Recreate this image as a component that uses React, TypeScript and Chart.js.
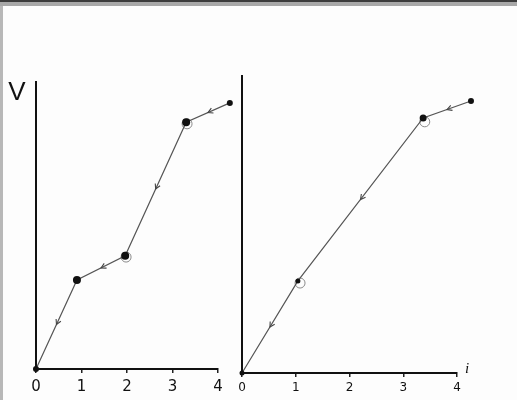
import React, { useEffect, useRef } from "react";
import { Chart, registerables } from "chart.js";

Chart.register(...registerables);

// ---- data ----
const tickLabels = ["0", "1", "2", "3", "4"];

const leftI = [0, 0.9, 1.96, 3.3, 4.26];
const leftV = [0, 2.17, 2.76, 6.02, 6.49];
const leftRingI = [1.98, 3.32];
const leftRingV = [2.73, 5.98];

const rightI = [0, 1.04, 3.37, 4.26];
const rightV = [0, 2.17, 6.01, 6.41];
const rightRingI = [1.08, 3.4];
const rightRingV = [2.12, 5.92];

const yAxisLabel = "V";
const xAxisLabel = "i";

const W = 517;
const H = 400;

const sketchPlugin = {
  id: "sketch",
  afterDatasetsDraw(chart: any, _args: any, opts: any) {
    const meta = chart.getDatasetMeta(0);
    const pts = meta.data;
    const ds = chart.data.datasets[0];
    const ca = chart.chartArea;
    const ctx = chart.ctx;
    ctx.save();
    // dots that fall just past the axis end (Chart.js skips them)
    ctx.fillStyle = "#111";
    pts.forEach((p: any, i: number) => {
      if (p.x > ca.right + 1 || p.y < ca.top - 1) {
        const r = Array.isArray(ds.pointRadius) ? ds.pointRadius[i] : ds.pointRadius;
        ctx.beginPath();
        ctx.arc(p.x, p.y, r, 0, Math.PI * 2);
        ctx.fill();
      }
    });
    ctx.strokeStyle = "#444";
    ctx.lineWidth = 1.1;
    (opts.arrowSegs || []).forEach((k: number) => {
      const a = pts[k + 1];
      const b = pts[k];
      const mx = (a.x + b.x) / 2;
      const my = (a.y + b.y) / 2;
      const ang = Math.atan2(b.y - a.y, b.x - a.x);
      const L = 5.5;
      const s = 0.5;
      ctx.beginPath();
      ctx.moveTo(mx - L * Math.cos(ang - s), my - L * Math.sin(ang - s));
      ctx.lineTo(mx, my);
      ctx.lineTo(mx - L * Math.cos(ang + s), my - L * Math.sin(ang + s));
      ctx.stroke();
    });
    ctx.restore();
  },
  afterDraw(chart: any, _args: any, opts: any) {
    const ctx = chart.ctx;
    const ca = chart.chartArea;
    ctx.save();
    ctx.fillStyle = "#111";
    if (opts.yLabel) {
      ctx.font = "26px 'Liberation Sans', 'DejaVu Sans', sans-serif";
      ctx.textAlign = "center";
      ctx.textBaseline = "top";
      ctx.fillText(opts.yLabel, ca.left - 19, ca.top - 2);
    }
    if (opts.xLabel) {
      ctx.font = "italic 15px 'Liberation Serif', serif";
      ctx.textAlign = "left";
      ctx.textBaseline = "bottom";
      ctx.fillText(opts.xLabel, ca.right + 8, ca.bottom + 4);
    }
    ctx.restore();
  },
};

function makeConfig(
  xs: number[],
  ys: number[],
  ringX: number[],
  ringY: number[],
  pad: { left: number; right: number; top: number },
  xAxisH: number,
  fontSize: number,
  tickPad: number,
  arrowSegs: number[],
  yLabel: string,
  xLabel: string,
  dotRadius: number[]
) {
  return {
    type: "scatter" as const,
    data: {
      datasets: [
        {
          data: xs.map((x, i) => ({ x, y: ys[i] })),
          showLine: true,
          borderColor: "#555",
          borderWidth: 1.2,
          pointBackgroundColor: "#111",
          pointBorderColor: "#111",
          pointRadius: dotRadius,
          pointBorderWidth: 0,
          clip: false as any,
        },
        {
          data: ringX.map((x, i) => ({ x, y: ringY[i] })),
          showLine: false,
          pointStyle: "circle",
          pointRadius: 5,
          pointBorderWidth: 1,
          borderColor: "#8a8a8a",
          pointBorderColor: "#8a8a8a",
          pointBackgroundColor: "rgba(0,0,0,0)",
          clip: false as any,
        },
      ],
    },
    options: {
      animation: false as const,
      responsive: false,
      events: [],
      layout: { padding: { left: pad.left, right: pad.right, top: pad.top, bottom: 0 } },
      plugins: {
        legend: { display: false },
        tooltip: { enabled: false },
        sketch: { arrowSegs, yLabel, xLabel },
      } as any,
      scales: {
        x: {
          type: "linear" as const,
          min: 0,
          max: 4,
          afterFit: (s: any) => {
            s.height = xAxisH;
          },
          grid: {
            display: true,
            drawOnChartArea: false,
            drawTicks: true,
            tickLength: 4,
            color: "#222",
            lineWidth: 1.5,
          },
          border: { display: true, color: "#111", width: 2 },
          ticks: {
            stepSize: 1,
            padding: tickPad,
            color: "#111",
            font: { size: fontSize, family: "'DejaVu Sans', sans-serif" },
            callback: (v: any) => tickLabels[Math.round(Number(v))] ?? "",
          },
        },
        y: {
          type: "linear" as const,
          min: 0,
          max: 7,
          afterFit: (s: any) => {
            s.width = 0;
          },
          grid: { display: false },
          border: { display: true, color: "#111", width: 2 },
          ticks: { display: false },
        },
      },
    },
    plugins: [sketchPlugin],
  };
}

export default function App() {
  const leftRef = useRef<HTMLCanvasElement>(null);
  const rightRef = useRef<HTMLCanvasElement>(null);

  useEffect(() => {
    const left = new Chart(
      leftRef.current!,
      makeConfig(
        leftI,
        leftV,
        leftRingI,
        leftRingV,
        { left: 36, right: W - 218, top: 82 },
        H - 369,
        15,
        5,
        [0, 1, 2, 3],
        yAxisLabel,
        "",
        [3, 4, 4, 4, 3]
      ) as any
    );
    const right = new Chart(
      rightRef.current!,
      makeConfig(
        rightI,
        rightV,
        rightRingI,
        rightRingV,
        { left: 242, right: W - 457, top: 76 },
        H - 373,
        12,
        4,
        [0, 1, 2],
        "",
        xAxisLabel,
        [2.5, 2.5, 3.5, 3]
      ) as any
    );
    return () => {
      left.destroy();
      right.destroy();
    };
  }, []);

  const cStyle: React.CSSProperties = {
    position: "absolute",
    left: 0,
    top: 0,
    width: W,
    height: H,
  };

  return (
    <div
      style={{
        position: "fixed",
        left: 0,
        top: 0,
        width: W,
        height: H,
        background: "#fdfdfd",
        overflow: "hidden",
      }}
    >
      <div style={{ position: "absolute", left: 0, top: 0, width: W, height: 2, background: "#3c3c3c" }} />
      <div style={{ position: "absolute", left: 0, top: 2, width: W, height: 4, background: "#a8a8a8" }} />
      <div style={{ position: "absolute", left: 0, top: 6, width: 3, height: H - 6, background: "#b8b8b8" }} />
      <canvas ref={leftRef} width={W} height={H} style={cStyle} />
      <canvas ref={rightRef} width={W} height={H} style={cStyle} />
    </div>
  );
}
